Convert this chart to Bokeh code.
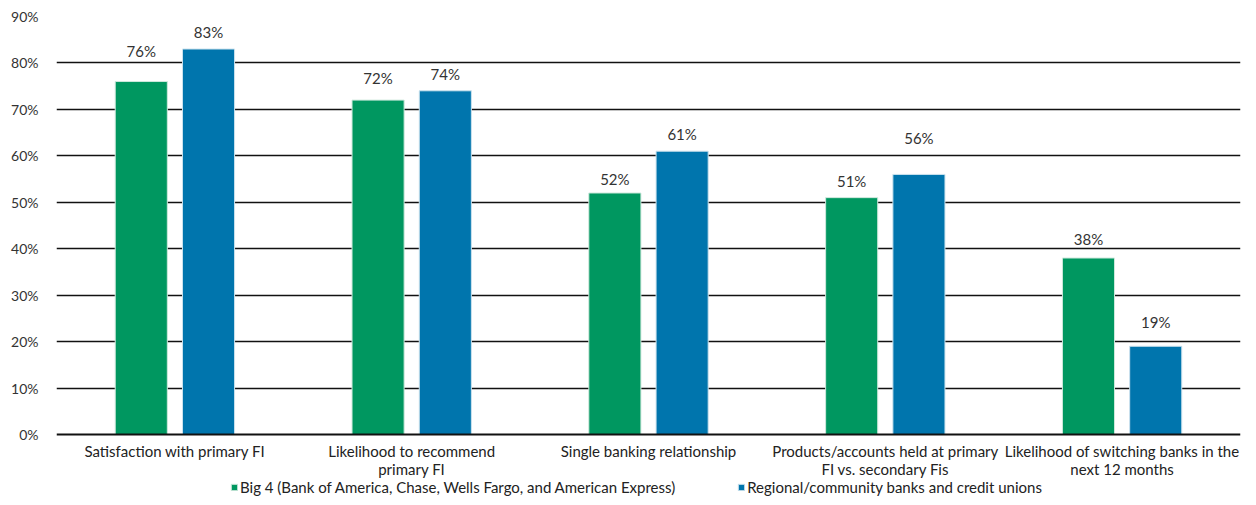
from bokeh.plotting import figure
from bokeh.models import (ColumnDataSource, FactorRange, Legend, LegendItem, NumeralTickFormatter,
                          FixedTicker, Range1d, Span)
from bokeh.transform import dodge
from bokeh.core.properties import value
from bokeh.embed import file_html
from bokeh.resources import INLINE

categories = ["Satisfaction with primary FI", "Likelihood to recommend primary FI",
              "Single banking relationship", "Products/accounts held at primary FI vs. secondary Fis",
              "Likelihood of switching banks in the next 12 months"]
label_lines = [["Satisfaction with primary FI"],
               ["Likelihood to recommend", "primary FI"],
               ["Single banking relationship"],
               ["Products/accounts held at primary", "FI vs. secondary Fis"],
               ["Likelihood of switching banks in the", "next 12 months"]]
big4 = [0.76, 0.72, 0.52, 0.51, 0.38]
regional = [0.83, 0.74, 0.61, 0.56, 0.19]
series_names = ["Big 4 (Bank of America, Chase, Wells Fargo, and American Express)",
                "Regional/community banks and credit unions"]
big4_label_offset = [-22, -13, -5, -8, -10]
regional_label_offset = [-8, -8, -8, -27, -15]

GREEN = "#009760"
BLUE = "#0075AD"
FONT = "Lato"

# layout: frame top = 90%, 0% sits 63px above the figure bottom
H, TOP, ZERO_PX = 497, 16, 434
px_per_unit = (ZERO_PX - TOP) / 0.9
y_start = -(H - ZERO_PX) / px_per_unit

src = ColumnDataSource(dict(
    cat=categories, big4=big4, regional=regional,
    big4_txt=[f"{round(v*100)}%" for v in big4],
    reg_txt=[f"{round(v*100)}%" for v in regional],
    big4_off=big4_label_offset, reg_off=regional_label_offset,
))

cat_rows = dict(cat=[], txt=[], off=[], zero=[])
for c, lines in zip(categories, label_lines):
    for i, ln in enumerate(lines):
        cat_rows["cat"].append(c)
        cat_rows["txt"].append(ln)
        cat_rows["off"].append(16 + 18 * i)
        cat_rows["zero"].append(0)
cat_src = ColumnDataSource(cat_rows)

p = figure(x_range=FactorRange(*categories), y_range=Range1d(y_start, 0.9),
           width=1248, height=H, output_backend="svg", toolbar_location=None,
           min_border_left=56, min_border_right=8, min_border_top=TOP, min_border_bottom=0)
p.outline_line_color = None
p.xaxis.visible = False

r1 = p.vbar(x=dodge("cat", -0.142, range=p.x_range), top="big4", width=0.22, source=src,
            fill_color=GREEN, line_color="#CFE9DD", line_width=1)
r2 = p.vbar(x=dodge("cat", 0.142, range=p.x_range), top="regional", width=0.22, source=src,
            fill_color=BLUE, line_color="#CDE3EE", line_width=1)

p.add_layout(Span(location=0, dimension="width", line_color="#111111", line_width=2.2))

p.text(x=dodge("cat", -0.142, range=p.x_range), y="big4", text="big4_txt", y_offset="big4_off",
       source=src, text_align="center", text_baseline="bottom", text_font=value(FONT),
       text_font_size="15px", text_color="#333333")
p.text(x=dodge("cat", 0.142, range=p.x_range), y="regional", text="reg_txt", y_offset="reg_off",
       source=src, text_align="center", text_baseline="bottom", text_font=value(FONT),
       text_font_size="15px", text_color="#333333")

p.text(x="cat", y="zero", text="txt", y_offset="off", source=cat_src,
       text_align="center", text_baseline="middle", text_font=value(FONT),
       text_font_size="15px", text_color="#222222")

p.yaxis.ticker = FixedTicker(ticks=[i / 10 for i in range(10)])
p.yaxis.formatter = NumeralTickFormatter(format="0%")
p.yaxis.axis_line_color = None
p.yaxis.major_tick_line_color = None
p.yaxis.minor_tick_line_color = None
p.yaxis.major_label_text_font = FONT
p.yaxis.major_label_text_font_size = "14px"
p.yaxis.major_label_text_color = "#333333"
p.yaxis.major_label_standoff = 12

p.xgrid.grid_line_color = None
p.ygrid.ticker = FixedTicker(ticks=[i / 10 for i in range(1, 10)])
p.ygrid.grid_line_color = "#111111"
p.ygrid.grid_line_width = 1.6

legend = Legend(items=[LegendItem(label=series_names[0], renderers=[r1]),
                       LegendItem(label=series_names[1], renderers=[r2])],
                orientation="horizontal", location=(174, 1),
                label_text_font=FONT, label_text_font_size="15px", label_text_color="#222222",
                glyph_width=8, glyph_height=8, label_standoff=2, spacing=62,
                padding=0, margin=0, border_line_color=None, background_fill_alpha=0,
                label_height=15)
p.add_layout(legend, "center")

open("out.html", "w").write(file_html(p, INLINE))
